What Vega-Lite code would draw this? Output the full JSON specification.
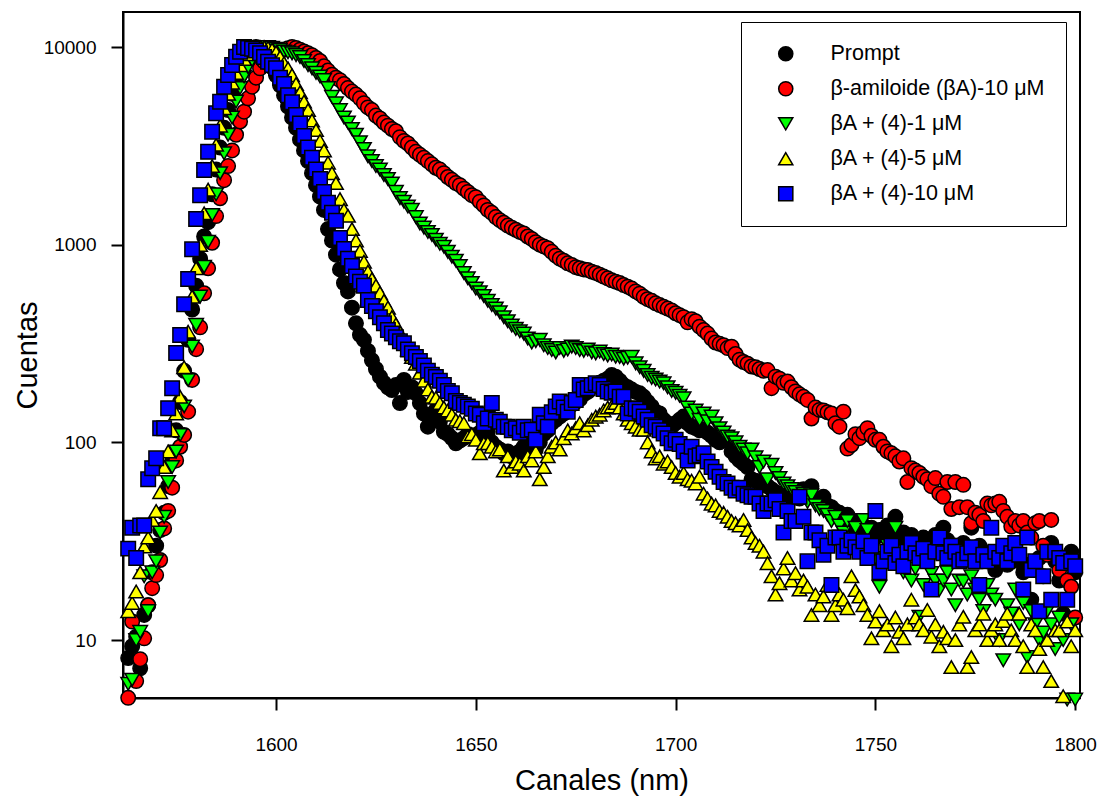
{
"$schema":"https://vega.github.io/schema/vega-lite/v6.json",
"autosize":{"type":"none"},
"width":957,"height":686,
"padding":{"left":123,"top":12,"right":27,"bottom":102},
"background":"white",
"config":{"view":{"stroke":"black","strokeWidth":2},"axis":{"grid":false},"font":"Liberation Sans"},
"data":{"values":[
{"x":1563,"s":"a","y":8.1},{"x":1564,"s":"a","y":9.3},{"x":1565,"s":"a","y":10.4},{"x":1566,"s":"a","y":7.2},{"x":1567,"s":"a","y":13.4},{"x":1568,"s":"a","y":15},{"x":1569,"s":"a","y":22},{"x":1570,"s":"a","y":30},{"x":1571,"s":"a","y":36},{"x":1572,"s":"a","y":44},{"x":1573,"s":"a","y":60},{"x":1574,"s":"a","y":80},{"x":1575,"s":"a","y":115},{"x":1576,"s":"a","y":160},{"x":1577,"s":"a","y":230},{"x":1578,"s":"a","y":330},{"x":1579,"s":"a","y":470},{"x":1580,"s":"a","y":620},{"x":1581,"s":"a","y":850},{"x":1582,"s":"a","y":1100},{"x":1583,"s":"a","y":1300},{"x":1584,"s":"a","y":1800},{"x":1585,"s":"a","y":2400},{"x":1586,"s":"a","y":3100},{"x":1587,"s":"a","y":3900},{"x":1588,"s":"a","y":4800},{"x":1589,"s":"a","y":5800},{"x":1590,"s":"a","y":6800},{"x":1591,"s":"a","y":7700},{"x":1592,"s":"a","y":8500},{"x":1593,"s":"a","y":9200},{"x":1594,"s":"a","y":9800},{"x":1595,"s":"a","y":10000},{"x":1596,"s":"a","y":9700},{"x":1597,"s":"a","y":9200},{"x":1598,"s":"a","y":8600},{"x":1599,"s":"a","y":7900},{"x":1600,"s":"a","y":7200},{"x":1601,"s":"a","y":6400},{"x":1602,"s":"a","y":5700},{"x":1603,"s":"a","y":5000},{"x":1604,"s":"a","y":4400},{"x":1605,"s":"a","y":3900},{"x":1606,"s":"a","y":3400},{"x":1607,"s":"a","y":3000},{"x":1608,"s":"a","y":2650},{"x":1609,"s":"a","y":2300},{"x":1610,"s":"a","y":2000},{"x":1611,"s":"a","y":1750},{"x":1612,"s":"a","y":1500},{"x":1613,"s":"a","y":1200},{"x":1614,"s":"a","y":1050},{"x":1615,"s":"a","y":890},{"x":1616,"s":"a","y":750},{"x":1617,"s":"a","y":640},{"x":1618,"s":"a","y":580},{"x":1619,"s":"a","y":480},{"x":1620,"s":"a","y":400},{"x":1621,"s":"a","y":350},{"x":1622,"s":"a","y":330},{"x":1623,"s":"a","y":290},{"x":1624,"s":"a","y":260},{"x":1625,"s":"a","y":235},{"x":1626,"s":"a","y":215},{"x":1627,"s":"a","y":200},{"x":1628,"s":"a","y":190},{"x":1629,"s":"a","y":184},{"x":1630,"s":"a","y":195},{"x":1631,"s":"a","y":158},{"x":1632,"s":"a","y":207},{"x":1633,"s":"a","y":180},{"x":1634,"s":"a","y":190},{"x":1635,"s":"a","y":177},{"x":1636,"s":"a","y":158},{"x":1637,"s":"a","y":140},{"x":1638,"s":"a","y":120},{"x":1639,"s":"a","y":130},{"x":1640,"s":"a","y":146},{"x":1641,"s":"a","y":127},{"x":1642,"s":"a","y":113},{"x":1643,"s":"a","y":110},{"x":1644,"s":"a","y":105},{"x":1645,"s":"a","y":99},{"x":1646,"s":"a","y":102},{"x":1647,"s":"a","y":105},{"x":1648,"s":"a","y":110},{"x":1649,"s":"a","y":108},{"x":1650,"s":"a","y":109},{"x":1651,"s":"a","y":112},{"x":1652,"s":"a","y":110},{"x":1653,"s":"a","y":113},{"x":1654,"s":"a","y":100},{"x":1655,"s":"a","y":95},{"x":1656,"s":"a","y":92},{"x":1657,"s":"a","y":88},{"x":1658,"s":"a","y":90},{"x":1659,"s":"a","y":85},{"x":1660,"s":"a","y":82},{"x":1661,"s":"a","y":90},{"x":1662,"s":"a","y":95},{"x":1663,"s":"a","y":100},{"x":1664,"s":"a","y":95},{"x":1665,"s":"a","y":92},{"x":1666,"s":"a","y":100},{"x":1667,"s":"a","y":110},{"x":1668,"s":"a","y":115},{"x":1669,"s":"a","y":125},{"x":1670,"s":"a","y":130},{"x":1671,"s":"a","y":135},{"x":1672,"s":"a","y":140},{"x":1673,"s":"a","y":150},{"x":1674,"s":"a","y":155},{"x":1675,"s":"a","y":160},{"x":1676,"s":"a","y":165},{"x":1677,"s":"a","y":175},{"x":1678,"s":"a","y":180},{"x":1679,"s":"a","y":190},{"x":1680,"s":"a","y":195},{"x":1681,"s":"a","y":200},{"x":1682,"s":"a","y":205},{"x":1683,"s":"a","y":210},{"x":1684,"s":"a","y":219},{"x":1685,"s":"a","y":215},{"x":1686,"s":"a","y":205},{"x":1687,"s":"a","y":195},{"x":1688,"s":"a","y":190},{"x":1689,"s":"a","y":185},{"x":1690,"s":"a","y":180},{"x":1691,"s":"a","y":177},{"x":1692,"s":"a","y":170},{"x":1693,"s":"a","y":160},{"x":1694,"s":"a","y":152},{"x":1695,"s":"a","y":143},{"x":1696,"s":"a","y":140},{"x":1697,"s":"a","y":130},{"x":1698,"s":"a","y":125},{"x":1699,"s":"a","y":120},{"x":1700,"s":"a","y":125},{"x":1701,"s":"a","y":130},{"x":1702,"s":"a","y":135},{"x":1703,"s":"a","y":125},{"x":1704,"s":"a","y":120},{"x":1705,"s":"a","y":118},{"x":1706,"s":"a","y":115},{"x":1707,"s":"a","y":116},{"x":1708,"s":"a","y":112},{"x":1709,"s":"a","y":108},{"x":1710,"s":"a","y":103},{"x":1711,"s":"a","y":100},{"x":1712,"s":"a","y":104},{"x":1713,"s":"a","y":103},{"x":1714,"s":"a","y":90},{"x":1715,"s":"a","y":85},{"x":1716,"s":"a","y":81},{"x":1717,"s":"a","y":78},{"x":1718,"s":"a","y":75},{"x":1719,"s":"a","y":65},{"x":1720,"s":"a","y":64},{"x":1721,"s":"a","y":63},{"x":1722,"s":"a","y":62},{"x":1723,"s":"a","y":60},{"x":1724,"s":"a","y":58},{"x":1725,"s":"a","y":56},{"x":1726,"s":"a","y":55},{"x":1727,"s":"a","y":54},{"x":1728,"s":"a","y":53},{"x":1729,"s":"a","y":52},{"x":1730,"s":"a","y":55},{"x":1731,"s":"a","y":52},{"x":1732,"s":"a","y":58},{"x":1733,"s":"a","y":57},{"x":1734,"s":"a","y":60},{"x":1735,"s":"a","y":52},{"x":1736,"s":"a","y":50},{"x":1737,"s":"a","y":53},{"x":1738,"s":"a","y":48},{"x":1739,"s":"a","y":47},{"x":1740,"s":"a","y":45},{"x":1741,"s":"a","y":44},{"x":1742,"s":"a","y":40},{"x":1743,"s":"a","y":43},{"x":1744,"s":"a","y":38},{"x":1745,"s":"a","y":40},{"x":1746,"s":"a","y":36},{"x":1747,"s":"a","y":38},{"x":1748,"s":"a","y":35},{"x":1749,"s":"a","y":37},{"x":1750,"s":"a","y":33},{"x":1751,"s":"a","y":36},{"x":1752,"s":"a","y":34},{"x":1753,"s":"a","y":38},{"x":1754,"s":"a","y":35},{"x":1755,"s":"a","y":42},{"x":1756,"s":"a","y":33},{"x":1757,"s":"a","y":35},{"x":1758,"s":"a","y":30},{"x":1759,"s":"a","y":34},{"x":1760,"s":"a","y":32},{"x":1761,"s":"a","y":30},{"x":1762,"s":"a","y":33},{"x":1763,"s":"a","y":29},{"x":1764,"s":"a","y":31},{"x":1765,"s":"a","y":34},{"x":1766,"s":"a","y":30},{"x":1767,"s":"a","y":37},{"x":1768,"s":"a","y":32},{"x":1769,"s":"a","y":28},{"x":1770,"s":"a","y":30},{"x":1771,"s":"a","y":27},{"x":1772,"s":"a","y":31},{"x":1773,"s":"a","y":29},{"x":1774,"s":"a","y":37},{"x":1775,"s":"a","y":26},{"x":1776,"s":"a","y":30},{"x":1777,"s":"a","y":28},{"x":1778,"s":"a","y":25},{"x":1779,"s":"a","y":27},{"x":1780,"s":"a","y":22.6},{"x":1781,"s":"a","y":28},{"x":1782,"s":"a","y":26},{"x":1783,"s":"a","y":24},{"x":1784,"s":"a","y":27},{"x":1785,"s":"a","y":29},{"x":1786,"s":"a","y":25},{"x":1787,"s":"a","y":22},{"x":1788,"s":"a","y":24},{"x":1789,"s":"a","y":16},{"x":1790,"s":"a","y":23},{"x":1791,"s":"a","y":26},{"x":1792,"s":"a","y":21},{"x":1793,"s":"a","y":28},{"x":1794,"s":"a","y":31},{"x":1795,"s":"a","y":25},{"x":1796,"s":"a","y":20},{"x":1797,"s":"a","y":13.6},{"x":1798,"s":"a","y":20},{"x":1799,"s":"a","y":28},{"x":1800,"s":"a","y":22},
{"x":1563,"s":"b","y":5.1},{"x":1564,"s":"b","y":12.4},{"x":1565,"s":"b","y":6.2},{"x":1566,"s":"b","y":8},{"x":1567,"s":"b","y":10.2},{"x":1568,"s":"b","y":15},{"x":1569,"s":"b","y":18.3},{"x":1570,"s":"b","y":21.3},{"x":1571,"s":"b","y":25.4},{"x":1572,"s":"b","y":36.7},{"x":1573,"s":"b","y":45},{"x":1574,"s":"b","y":59},{"x":1575,"s":"b","y":81},{"x":1576,"s":"b","y":95},{"x":1577,"s":"b","y":109},{"x":1578,"s":"b","y":143},{"x":1579,"s":"b","y":207},{"x":1580,"s":"b","y":296},{"x":1581,"s":"b","y":382},{"x":1582,"s":"b","y":568},{"x":1583,"s":"b","y":760},{"x":1584,"s":"b","y":1023},{"x":1585,"s":"b","y":1395},{"x":1586,"s":"b","y":1718},{"x":1587,"s":"b","y":2120},{"x":1588,"s":"b","y":2500},{"x":1589,"s":"b","y":3000},{"x":1590,"s":"b","y":3600},{"x":1591,"s":"b","y":4200},{"x":1592,"s":"b","y":4710},{"x":1593,"s":"b","y":5500},{"x":1594,"s":"b","y":6300},{"x":1595,"s":"b","y":7000},{"x":1596,"s":"b","y":7800},{"x":1597,"s":"b","y":8430},{"x":1598,"s":"b","y":8800},{"x":1599,"s":"b","y":9100},{"x":1600,"s":"b","y":9300},{"x":1601,"s":"b","y":9500},{"x":1602,"s":"b","y":9700},{"x":1603,"s":"b","y":9850},{"x":1604,"s":"b","y":10000},{"x":1605,"s":"b","y":9900},{"x":1606,"s":"b","y":9700},{"x":1607,"s":"b","y":9500},{"x":1608,"s":"b","y":9300},{"x":1609,"s":"b","y":9100},{"x":1610,"s":"b","y":8800},{"x":1611,"s":"b","y":8500},{"x":1612,"s":"b","y":8000},{"x":1613,"s":"b","y":7600},{"x":1614,"s":"b","y":7250},{"x":1615,"s":"b","y":7000},{"x":1616,"s":"b","y":6800},{"x":1617,"s":"b","y":6500},{"x":1618,"s":"b","y":6200},{"x":1619,"s":"b","y":5950},{"x":1620,"s":"b","y":5750},{"x":1621,"s":"b","y":5500},{"x":1622,"s":"b","y":5200},{"x":1623,"s":"b","y":4950},{"x":1624,"s":"b","y":4800},{"x":1625,"s":"b","y":4500},{"x":1626,"s":"b","y":4350},{"x":1627,"s":"b","y":4150},{"x":1628,"s":"b","y":4000},{"x":1629,"s":"b","y":3850},{"x":1630,"s":"b","y":3750},{"x":1631,"s":"b","y":3500},{"x":1632,"s":"b","y":3350},{"x":1633,"s":"b","y":3250},{"x":1634,"s":"b","y":3100},{"x":1635,"s":"b","y":2950},{"x":1636,"s":"b","y":2850},{"x":1637,"s":"b","y":2750},{"x":1638,"s":"b","y":2650},{"x":1639,"s":"b","y":2550},{"x":1640,"s":"b","y":2450},{"x":1641,"s":"b","y":2400},{"x":1642,"s":"b","y":2300},{"x":1643,"s":"b","y":2200},{"x":1644,"s":"b","y":2130},{"x":1645,"s":"b","y":2050},{"x":1646,"s":"b","y":2000},{"x":1647,"s":"b","y":1920},{"x":1648,"s":"b","y":1850},{"x":1649,"s":"b","y":1780},{"x":1650,"s":"b","y":1740},{"x":1651,"s":"b","y":1650},{"x":1652,"s":"b","y":1580},{"x":1653,"s":"b","y":1500},{"x":1654,"s":"b","y":1450},{"x":1655,"s":"b","y":1380},{"x":1656,"s":"b","y":1330},{"x":1657,"s":"b","y":1290},{"x":1658,"s":"b","y":1250},{"x":1659,"s":"b","y":1220},{"x":1660,"s":"b","y":1190},{"x":1661,"s":"b","y":1160},{"x":1662,"s":"b","y":1140},{"x":1663,"s":"b","y":1100},{"x":1664,"s":"b","y":1070},{"x":1665,"s":"b","y":1030},{"x":1666,"s":"b","y":1000},{"x":1667,"s":"b","y":980},{"x":1668,"s":"b","y":960},{"x":1669,"s":"b","y":920},{"x":1670,"s":"b","y":880},{"x":1671,"s":"b","y":850},{"x":1672,"s":"b","y":830},{"x":1673,"s":"b","y":805},{"x":1674,"s":"b","y":790},{"x":1675,"s":"b","y":770},{"x":1676,"s":"b","y":760},{"x":1677,"s":"b","y":750},{"x":1678,"s":"b","y":745},{"x":1679,"s":"b","y":730},{"x":1680,"s":"b","y":720},{"x":1681,"s":"b","y":705},{"x":1682,"s":"b","y":690},{"x":1683,"s":"b","y":676},{"x":1684,"s":"b","y":660},{"x":1685,"s":"b","y":650},{"x":1686,"s":"b","y":640},{"x":1687,"s":"b","y":625},{"x":1688,"s":"b","y":613},{"x":1689,"s":"b","y":600},{"x":1690,"s":"b","y":580},{"x":1691,"s":"b","y":565},{"x":1692,"s":"b","y":545},{"x":1693,"s":"b","y":530},{"x":1694,"s":"b","y":520},{"x":1695,"s":"b","y":505},{"x":1696,"s":"b","y":495},{"x":1697,"s":"b","y":485},{"x":1698,"s":"b","y":475},{"x":1699,"s":"b","y":465},{"x":1700,"s":"b","y":450},{"x":1701,"s":"b","y":440},{"x":1702,"s":"b","y":430},{"x":1703,"s":"b","y":405},{"x":1704,"s":"b","y":420},{"x":1705,"s":"b","y":410},{"x":1706,"s":"b","y":385},{"x":1707,"s":"b","y":370},{"x":1708,"s":"b","y":355},{"x":1709,"s":"b","y":335},{"x":1710,"s":"b","y":320},{"x":1711,"s":"b","y":315},{"x":1712,"s":"b","y":310},{"x":1713,"s":"b","y":300},{"x":1714,"s":"b","y":305},{"x":1715,"s":"b","y":280},{"x":1716,"s":"b","y":262},{"x":1717,"s":"b","y":255},{"x":1718,"s":"b","y":250},{"x":1719,"s":"b","y":242},{"x":1720,"s":"b","y":240},{"x":1721,"s":"b","y":235},{"x":1722,"s":"b","y":230},{"x":1723,"s":"b","y":232},{"x":1724,"s":"b","y":188},{"x":1725,"s":"b","y":215},{"x":1726,"s":"b","y":210},{"x":1727,"s":"b","y":200},{"x":1728,"s":"b","y":203},{"x":1729,"s":"b","y":190},{"x":1730,"s":"b","y":181},{"x":1731,"s":"b","y":175},{"x":1732,"s":"b","y":170},{"x":1733,"s":"b","y":164},{"x":1734,"s":"b","y":132},{"x":1735,"s":"b","y":150},{"x":1736,"s":"b","y":146},{"x":1737,"s":"b","y":145},{"x":1738,"s":"b","y":142},{"x":1739,"s":"b","y":140},{"x":1740,"s":"b","y":125},{"x":1741,"s":"b","y":120},{"x":1742,"s":"b","y":143},{"x":1743,"s":"b","y":93},{"x":1744,"s":"b","y":97},{"x":1745,"s":"b","y":110},{"x":1746,"s":"b","y":105},{"x":1747,"s":"b","y":112},{"x":1748,"s":"b","y":118},{"x":1749,"s":"b","y":108},{"x":1750,"s":"b","y":103},{"x":1751,"s":"b","y":103},{"x":1752,"s":"b","y":95},{"x":1753,"s":"b","y":90},{"x":1754,"s":"b","y":88},{"x":1755,"s":"b","y":85},{"x":1756,"s":"b","y":80},{"x":1757,"s":"b","y":83},{"x":1758,"s":"b","y":63},{"x":1759,"s":"b","y":74},{"x":1760,"s":"b","y":72},{"x":1761,"s":"b","y":70},{"x":1762,"s":"b","y":67},{"x":1763,"s":"b","y":65},{"x":1764,"s":"b","y":60},{"x":1765,"s":"b","y":66},{"x":1766,"s":"b","y":55},{"x":1767,"s":"b","y":53},{"x":1768,"s":"b","y":63},{"x":1769,"s":"b","y":46},{"x":1770,"s":"b","y":63},{"x":1771,"s":"b","y":47},{"x":1772,"s":"b","y":61},{"x":1773,"s":"b","y":47},{"x":1774,"s":"b","y":39},{"x":1775,"s":"b","y":44},{"x":1776,"s":"b","y":43},{"x":1777,"s":"b","y":40},{"x":1778,"s":"b","y":49},{"x":1779,"s":"b","y":48},{"x":1780,"s":"b","y":49},{"x":1781,"s":"b","y":50},{"x":1782,"s":"b","y":45},{"x":1783,"s":"b","y":42},{"x":1784,"s":"b","y":37.5},{"x":1785,"s":"b","y":40},{"x":1786,"s":"b","y":38},{"x":1787,"s":"b","y":40},{"x":1788,"s":"b","y":35},{"x":1789,"s":"b","y":33},{"x":1790,"s":"b","y":39},{"x":1791,"s":"b","y":40},{"x":1792,"s":"b","y":30},{"x":1793,"s":"b","y":27},{"x":1794,"s":"b","y":40.5},{"x":1795,"s":"b","y":28},{"x":1796,"s":"b","y":22.6},{"x":1797,"s":"b","y":25},{"x":1798,"s":"b","y":20},{"x":1799,"s":"b","y":18.6},{"x":1800,"s":"b","y":13},
{"x":1563,"s":"c","y":6},{"x":1564,"s":"c","y":6.3},{"x":1565,"s":"c","y":10},{"x":1566,"s":"c","y":11},{"x":1567,"s":"c","y":21},{"x":1568,"s":"c","y":14},{"x":1569,"s":"c","y":22},{"x":1570,"s":"c","y":25},{"x":1571,"s":"c","y":35},{"x":1572,"s":"c","y":42},{"x":1573,"s":"c","y":63},{"x":1574,"s":"c","y":75},{"x":1575,"s":"c","y":90},{"x":1576,"s":"c","y":109},{"x":1577,"s":"c","y":152},{"x":1578,"s":"c","y":207},{"x":1579,"s":"c","y":305},{"x":1580,"s":"c","y":393},{"x":1581,"s":"c","y":546},{"x":1582,"s":"c","y":774},{"x":1583,"s":"c","y":1035},{"x":1584,"s":"c","y":1413},{"x":1585,"s":"c","y":1800},{"x":1586,"s":"c","y":2300},{"x":1587,"s":"c","y":2900},{"x":1588,"s":"c","y":3600},{"x":1589,"s":"c","y":4400},{"x":1590,"s":"c","y":5300},{"x":1591,"s":"c","y":6200},{"x":1592,"s":"c","y":7100},{"x":1593,"s":"c","y":7900},{"x":1594,"s":"c","y":8600},{"x":1595,"s":"c","y":9200},{"x":1596,"s":"c","y":9700},{"x":1597,"s":"c","y":10000},{"x":1598,"s":"c","y":10000},{"x":1599,"s":"c","y":9900},{"x":1600,"s":"c","y":9800},{"x":1601,"s":"c","y":9700},{"x":1602,"s":"c","y":9500},{"x":1603,"s":"c","y":9400},{"x":1604,"s":"c","y":9290},{"x":1605,"s":"c","y":9100},{"x":1606,"s":"c","y":8900},{"x":1607,"s":"c","y":8500},{"x":1608,"s":"c","y":8100},{"x":1609,"s":"c","y":7800},{"x":1610,"s":"c","y":7400},{"x":1611,"s":"c","y":7100},{"x":1612,"s":"c","y":6800},{"x":1613,"s":"c","y":6200},{"x":1614,"s":"c","y":5600},{"x":1615,"s":"c","y":5190},{"x":1616,"s":"c","y":4800},{"x":1617,"s":"c","y":4400},{"x":1618,"s":"c","y":4150},{"x":1619,"s":"c","y":3850},{"x":1620,"s":"c","y":3600},{"x":1621,"s":"c","y":3300},{"x":1622,"s":"c","y":3050},{"x":1623,"s":"c","y":2800},{"x":1624,"s":"c","y":2650},{"x":1625,"s":"c","y":2500},{"x":1626,"s":"c","y":2400},{"x":1627,"s":"c","y":2250},{"x":1628,"s":"c","y":2150},{"x":1629,"s":"c","y":2040},{"x":1630,"s":"c","y":1850},{"x":1631,"s":"c","y":1720},{"x":1632,"s":"c","y":1650},{"x":1633,"s":"c","y":1560},{"x":1634,"s":"c","y":1500},{"x":1635,"s":"c","y":1380},{"x":1636,"s":"c","y":1280},{"x":1637,"s":"c","y":1220},{"x":1638,"s":"c","y":1160},{"x":1639,"s":"c","y":1120},{"x":1640,"s":"c","y":1060},{"x":1641,"s":"c","y":1010},{"x":1642,"s":"c","y":977},{"x":1643,"s":"c","y":920},{"x":1644,"s":"c","y":870},{"x":1645,"s":"c","y":830},{"x":1646,"s":"c","y":780},{"x":1647,"s":"c","y":720},{"x":1648,"s":"c","y":676},{"x":1649,"s":"c","y":640},{"x":1650,"s":"c","y":600},{"x":1651,"s":"c","y":575},{"x":1652,"s":"c","y":550},{"x":1653,"s":"c","y":520},{"x":1654,"s":"c","y":495},{"x":1655,"s":"c","y":475},{"x":1656,"s":"c","y":455},{"x":1657,"s":"c","y":430},{"x":1658,"s":"c","y":410},{"x":1659,"s":"c","y":390},{"x":1660,"s":"c","y":375},{"x":1661,"s":"c","y":365},{"x":1662,"s":"c","y":355},{"x":1663,"s":"c","y":335},{"x":1664,"s":"c","y":320},{"x":1665,"s":"c","y":325},{"x":1666,"s":"c","y":330},{"x":1667,"s":"c","y":310},{"x":1668,"s":"c","y":300},{"x":1669,"s":"c","y":293},{"x":1670,"s":"c","y":285},{"x":1671,"s":"c","y":300},{"x":1672,"s":"c","y":290},{"x":1673,"s":"c","y":295},{"x":1674,"s":"c","y":305},{"x":1675,"s":"c","y":300},{"x":1676,"s":"c","y":293},{"x":1677,"s":"c","y":290},{"x":1678,"s":"c","y":295},{"x":1679,"s":"c","y":285},{"x":1680,"s":"c","y":282},{"x":1681,"s":"c","y":288},{"x":1682,"s":"c","y":280},{"x":1683,"s":"c","y":275},{"x":1684,"s":"c","y":278},{"x":1685,"s":"c","y":271},{"x":1686,"s":"c","y":270},{"x":1687,"s":"c","y":265},{"x":1688,"s":"c","y":268},{"x":1689,"s":"c","y":271},{"x":1690,"s":"c","y":251},{"x":1691,"s":"c","y":240},{"x":1692,"s":"c","y":230},{"x":1693,"s":"c","y":219},{"x":1694,"s":"c","y":212},{"x":1695,"s":"c","y":208},{"x":1696,"s":"c","y":203},{"x":1697,"s":"c","y":199},{"x":1698,"s":"c","y":190},{"x":1699,"s":"c","y":182},{"x":1700,"s":"c","y":178},{"x":1701,"s":"c","y":172},{"x":1702,"s":"c","y":167},{"x":1703,"s":"c","y":150},{"x":1704,"s":"c","y":140},{"x":1705,"s":"c","y":145},{"x":1706,"s":"c","y":130},{"x":1707,"s":"c","y":140},{"x":1708,"s":"c","y":128},{"x":1709,"s":"c","y":135},{"x":1710,"s":"c","y":125},{"x":1711,"s":"c","y":118},{"x":1712,"s":"c","y":112},{"x":1713,"s":"c","y":107},{"x":1714,"s":"c","y":105},{"x":1715,"s":"c","y":100},{"x":1716,"s":"c","y":95},{"x":1717,"s":"c","y":92},{"x":1718,"s":"c","y":88},{"x":1719,"s":"c","y":92},{"x":1720,"s":"c","y":84},{"x":1721,"s":"c","y":75},{"x":1722,"s":"c","y":80},{"x":1723,"s":"c","y":65},{"x":1724,"s":"c","y":77},{"x":1725,"s":"c","y":70},{"x":1726,"s":"c","y":66},{"x":1727,"s":"c","y":62},{"x":1728,"s":"c","y":60},{"x":1729,"s":"c","y":58},{"x":1730,"s":"c","y":56},{"x":1731,"s":"c","y":52},{"x":1732,"s":"c","y":55},{"x":1733,"s":"c","y":50},{"x":1734,"s":"c","y":54},{"x":1735,"s":"c","y":48},{"x":1736,"s":"c","y":46},{"x":1737,"s":"c","y":45},{"x":1738,"s":"c","y":43},{"x":1739,"s":"c","y":40},{"x":1740,"s":"c","y":42},{"x":1741,"s":"c","y":38},{"x":1742,"s":"c","y":35},{"x":1743,"s":"c","y":40},{"x":1744,"s":"c","y":32},{"x":1745,"s":"c","y":37},{"x":1746,"s":"c","y":30},{"x":1747,"s":"c","y":40.5},{"x":1748,"s":"c","y":36},{"x":1749,"s":"c","y":28},{"x":1750,"s":"c","y":26},{"x":1751,"s":"c","y":18.6},{"x":1752,"s":"c","y":25},{"x":1753,"s":"c","y":30},{"x":1754,"s":"c","y":28},{"x":1755,"s":"c","y":37},{"x":1756,"s":"c","y":24},{"x":1757,"s":"c","y":22},{"x":1758,"s":"c","y":26},{"x":1759,"s":"c","y":20},{"x":1760,"s":"c","y":23},{"x":1761,"s":"c","y":13.1},{"x":1762,"s":"c","y":19},{"x":1763,"s":"c","y":24},{"x":1764,"s":"c","y":21.8},{"x":1765,"s":"c","y":20},{"x":1766,"s":"c","y":17.9},{"x":1767,"s":"c","y":20},{"x":1768,"s":"c","y":22},{"x":1769,"s":"c","y":18},{"x":1770,"s":"c","y":15},{"x":1771,"s":"c","y":20},{"x":1772,"s":"c","y":19.8},{"x":1773,"s":"c","y":17},{"x":1774,"s":"c","y":21},{"x":1775,"s":"c","y":18},{"x":1776,"s":"c","y":16},{"x":1777,"s":"c","y":14},{"x":1778,"s":"c","y":19},{"x":1779,"s":"c","y":17},{"x":1780,"s":"c","y":16},{"x":1781,"s":"c","y":10},{"x":1782,"s":"c","y":7.9},{"x":1783,"s":"c","y":15},{"x":1784,"s":"c","y":13.6},{"x":1785,"s":"c","y":18},{"x":1786,"s":"c","y":12},{"x":1787,"s":"c","y":15.4},{"x":1788,"s":"c","y":8.2},{"x":1789,"s":"c","y":14},{"x":1790,"s":"c","y":12},{"x":1791,"s":"c","y":10},{"x":1792,"s":"c","y":10.9},{"x":1793,"s":"c","y":14},{"x":1794,"s":"c","y":12},{"x":1795,"s":"c","y":9},{"x":1796,"s":"c","y":13},{"x":1797,"s":"c","y":10},{"x":1798,"s":"c","y":5},{"x":1799,"s":"c","y":12},{"x":1800,"s":"c","y":5},
{"x":1563,"s":"d","y":14},{"x":1564,"s":"d","y":15.4},{"x":1565,"s":"d","y":17.6},{"x":1566,"s":"d","y":22},{"x":1567,"s":"d","y":29.7},{"x":1568,"s":"d","y":33},{"x":1569,"s":"d","y":40.5},{"x":1570,"s":"d","y":45},{"x":1571,"s":"d","y":56},{"x":1572,"s":"d","y":75},{"x":1573,"s":"d","y":90},{"x":1574,"s":"d","y":115},{"x":1575,"s":"d","y":140},{"x":1576,"s":"d","y":170},{"x":1577,"s":"d","y":240},{"x":1578,"s":"d","y":363},{"x":1579,"s":"d","y":546},{"x":1580,"s":"d","y":760},{"x":1581,"s":"d","y":996},{"x":1582,"s":"d","y":1442},{"x":1583,"s":"d","y":1900},{"x":1584,"s":"d","y":2500},{"x":1585,"s":"d","y":3200},{"x":1586,"s":"d","y":4000},{"x":1587,"s":"d","y":4900},{"x":1588,"s":"d","y":5800},{"x":1589,"s":"d","y":6600},{"x":1590,"s":"d","y":7400},{"x":1591,"s":"d","y":8100},{"x":1592,"s":"d","y":8700},{"x":1593,"s":"d","y":9200},{"x":1594,"s":"d","y":9600},{"x":1595,"s":"d","y":9900},{"x":1596,"s":"d","y":10000},{"x":1597,"s":"d","y":10000},{"x":1598,"s":"d","y":9900},{"x":1599,"s":"d","y":9700},{"x":1600,"s":"d","y":9400},{"x":1601,"s":"d","y":8900},{"x":1602,"s":"d","y":8300},{"x":1603,"s":"d","y":7800},{"x":1604,"s":"d","y":7200},{"x":1605,"s":"d","y":6500},{"x":1606,"s":"d","y":5900},{"x":1607,"s":"d","y":5300},{"x":1608,"s":"d","y":4800},{"x":1609,"s":"d","y":4250},{"x":1610,"s":"d","y":3800},{"x":1611,"s":"d","y":3350},{"x":1612,"s":"d","y":3000},{"x":1613,"s":"d","y":2600},{"x":1614,"s":"d","y":2300},{"x":1615,"s":"d","y":2050},{"x":1616,"s":"d","y":1700},{"x":1617,"s":"d","y":1500},{"x":1618,"s":"d","y":1400},{"x":1619,"s":"d","y":1200},{"x":1620,"s":"d","y":1050},{"x":1621,"s":"d","y":930},{"x":1622,"s":"d","y":820},{"x":1623,"s":"d","y":730},{"x":1624,"s":"d","y":670},{"x":1625,"s":"d","y":620},{"x":1626,"s":"d","y":570},{"x":1627,"s":"d","y":520},{"x":1628,"s":"d","y":480},{"x":1629,"s":"d","y":430},{"x":1630,"s":"d","y":395},{"x":1631,"s":"d","y":360},{"x":1632,"s":"d","y":325},{"x":1633,"s":"d","y":295},{"x":1634,"s":"d","y":270},{"x":1635,"s":"d","y":250},{"x":1636,"s":"d","y":225},{"x":1637,"s":"d","y":205},{"x":1638,"s":"d","y":185},{"x":1639,"s":"d","y":170},{"x":1640,"s":"d","y":168},{"x":1641,"s":"d","y":158},{"x":1642,"s":"d","y":150},{"x":1643,"s":"d","y":145},{"x":1644,"s":"d","y":138},{"x":1645,"s":"d","y":130},{"x":1646,"s":"d","y":128},{"x":1647,"s":"d","y":125},{"x":1648,"s":"d","y":107},{"x":1649,"s":"d","y":110},{"x":1650,"s":"d","y":103},{"x":1651,"s":"d","y":88},{"x":1652,"s":"d","y":99},{"x":1653,"s":"d","y":99},{"x":1654,"s":"d","y":95},{"x":1655,"s":"d","y":90},{"x":1656,"s":"d","y":92},{"x":1657,"s":"d","y":72},{"x":1658,"s":"d","y":85},{"x":1659,"s":"d","y":75},{"x":1660,"s":"d","y":80},{"x":1661,"s":"d","y":78},{"x":1662,"s":"d","y":72},{"x":1663,"s":"d","y":85},{"x":1664,"s":"d","y":81},{"x":1665,"s":"d","y":90},{"x":1666,"s":"d","y":65},{"x":1667,"s":"d","y":75},{"x":1668,"s":"d","y":85},{"x":1669,"s":"d","y":95},{"x":1670,"s":"d","y":100},{"x":1671,"s":"d","y":92},{"x":1672,"s":"d","y":105},{"x":1673,"s":"d","y":115},{"x":1674,"s":"d","y":111},{"x":1675,"s":"d","y":118},{"x":1676,"s":"d","y":125},{"x":1677,"s":"d","y":115},{"x":1678,"s":"d","y":122},{"x":1679,"s":"d","y":130},{"x":1680,"s":"d","y":135},{"x":1681,"s":"d","y":138},{"x":1682,"s":"d","y":145},{"x":1683,"s":"d","y":150},{"x":1684,"s":"d","y":152},{"x":1685,"s":"d","y":158},{"x":1686,"s":"d","y":150},{"x":1687,"s":"d","y":140},{"x":1688,"s":"d","y":130},{"x":1689,"s":"d","y":125},{"x":1690,"s":"d","y":120},{"x":1691,"s":"d","y":116},{"x":1692,"s":"d","y":116},{"x":1693,"s":"d","y":100},{"x":1694,"s":"d","y":90},{"x":1695,"s":"d","y":83},{"x":1696,"s":"d","y":85},{"x":1697,"s":"d","y":78},{"x":1698,"s":"d","y":80},{"x":1699,"s":"d","y":75},{"x":1700,"s":"d","y":70},{"x":1701,"s":"d","y":67},{"x":1702,"s":"d","y":70},{"x":1703,"s":"d","y":65},{"x":1704,"s":"d","y":64},{"x":1705,"s":"d","y":62},{"x":1706,"s":"d","y":67},{"x":1707,"s":"d","y":55},{"x":1708,"s":"d","y":52},{"x":1709,"s":"d","y":49},{"x":1710,"s":"d","y":48},{"x":1711,"s":"d","y":45},{"x":1712,"s":"d","y":44},{"x":1713,"s":"d","y":42},{"x":1714,"s":"d","y":40},{"x":1715,"s":"d","y":39},{"x":1716,"s":"d","y":38},{"x":1717,"s":"d","y":40.5},{"x":1718,"s":"d","y":36},{"x":1719,"s":"d","y":33},{"x":1720,"s":"d","y":31},{"x":1721,"s":"d","y":30},{"x":1722,"s":"d","y":28},{"x":1723,"s":"d","y":24.5},{"x":1724,"s":"d","y":21},{"x":1725,"s":"d","y":17},{"x":1726,"s":"d","y":19.4},{"x":1727,"s":"d","y":23},{"x":1728,"s":"d","y":26},{"x":1729,"s":"d","y":20},{"x":1730,"s":"d","y":21.8},{"x":1731,"s":"d","y":18},{"x":1732,"s":"d","y":20},{"x":1733,"s":"d","y":18.6},{"x":1734,"s":"d","y":13.4},{"x":1735,"s":"d","y":17},{"x":1736,"s":"d","y":15},{"x":1737,"s":"d","y":16.6},{"x":1738,"s":"d","y":19},{"x":1739,"s":"d","y":13.4},{"x":1740,"s":"d","y":15},{"x":1741,"s":"d","y":17},{"x":1742,"s":"d","y":16},{"x":1743,"s":"d","y":14.5},{"x":1744,"s":"d","y":21},{"x":1745,"s":"d","y":17.9},{"x":1746,"s":"d","y":16.6},{"x":1747,"s":"d","y":15},{"x":1748,"s":"d","y":13.4},{"x":1749,"s":"d","y":10.2},{"x":1750,"s":"d","y":12.4},{"x":1751,"s":"d","y":14},{"x":1752,"s":"d","y":11.2},{"x":1753,"s":"d","y":12},{"x":1754,"s":"d","y":9.3},{"x":1755,"s":"d","y":13},{"x":1756,"s":"d","y":11},{"x":1757,"s":"d","y":10.2},{"x":1758,"s":"d","y":12},{"x":1759,"s":"d","y":16},{"x":1760,"s":"d","y":13},{"x":1761,"s":"d","y":12},{"x":1762,"s":"d","y":11.2},{"x":1763,"s":"d","y":14.2},{"x":1764,"s":"d","y":10.4},{"x":1765,"s":"d","y":12},{"x":1766,"s":"d","y":9.3},{"x":1767,"s":"d","y":11},{"x":1768,"s":"d","y":10.2},{"x":1769,"s":"d","y":7.3},{"x":1770,"s":"d","y":10},{"x":1771,"s":"d","y":12},{"x":1772,"s":"d","y":13.1},{"x":1773,"s":"d","y":7.3},{"x":1774,"s":"d","y":8.2},{"x":1775,"s":"d","y":11.2},{"x":1776,"s":"d","y":12},{"x":1777,"s":"d","y":13.6},{"x":1778,"s":"d","y":10},{"x":1779,"s":"d","y":11.2},{"x":1780,"s":"d","y":12},{"x":1781,"s":"d","y":10},{"x":1782,"s":"d","y":12.5},{"x":1783,"s":"d","y":13.6},{"x":1784,"s":"d","y":11.2},{"x":1785,"s":"d","y":10},{"x":1786,"s":"d","y":13.6},{"x":1787,"s":"d","y":9.3},{"x":1788,"s":"d","y":7.3},{"x":1789,"s":"d","y":12},{"x":1790,"s":"d","y":11.2},{"x":1791,"s":"d","y":9},{"x":1792,"s":"d","y":7.3},{"x":1793,"s":"d","y":10},{"x":1794,"s":"d","y":6.2},{"x":1795,"s":"d","y":11.2},{"x":1796,"s":"d","y":11.2},{"x":1797,"s":"d","y":5.2},{"x":1798,"s":"d","y":12.4},{"x":1799,"s":"d","y":9.3},{"x":1800,"s":"d","y":11.2},
{"x":1563,"s":"e","y":29},{"x":1564,"s":"e","y":37},{"x":1565,"s":"e","y":26},{"x":1566,"s":"e","y":38},{"x":1567,"s":"e","y":38},{"x":1568,"s":"e","y":65},{"x":1569,"s":"e","y":74},{"x":1570,"s":"e","y":83},{"x":1571,"s":"e","y":118},{"x":1572,"s":"e","y":118},{"x":1573,"s":"e","y":149},{"x":1574,"s":"e","y":188},{"x":1575,"s":"e","y":283},{"x":1576,"s":"e","y":349},{"x":1577,"s":"e","y":500},{"x":1578,"s":"e","y":670},{"x":1579,"s":"e","y":948},{"x":1580,"s":"e","y":1350},{"x":1581,"s":"e","y":1780},{"x":1582,"s":"e","y":2390},{"x":1583,"s":"e","y":2950},{"x":1584,"s":"e","y":3730},{"x":1585,"s":"e","y":4620},{"x":1586,"s":"e","y":5290},{"x":1587,"s":"e","y":6300},{"x":1588,"s":"e","y":7220},{"x":1589,"s":"e","y":8110},{"x":1590,"s":"e","y":8930},{"x":1591,"s":"e","y":9470},{"x":1592,"s":"e","y":10000},{"x":1593,"s":"e","y":9900},{"x":1594,"s":"e","y":9800},{"x":1595,"s":"e","y":9600},{"x":1596,"s":"e","y":9300},{"x":1597,"s":"e","y":8900},{"x":1598,"s":"e","y":8430},{"x":1599,"s":"e","y":8100},{"x":1600,"s":"e","y":7800},{"x":1601,"s":"e","y":7000},{"x":1602,"s":"e","y":6500},{"x":1603,"s":"e","y":5700},{"x":1604,"s":"e","y":5250},{"x":1605,"s":"e","y":4530},{"x":1606,"s":"e","y":4100},{"x":1607,"s":"e","y":3550},{"x":1608,"s":"e","y":3100},{"x":1609,"s":"e","y":2750},{"x":1610,"s":"e","y":2400},{"x":1611,"s":"e","y":2150},{"x":1612,"s":"e","y":1850},{"x":1613,"s":"e","y":1630},{"x":1614,"s":"e","y":1450},{"x":1615,"s":"e","y":1320},{"x":1616,"s":"e","y":1080},{"x":1617,"s":"e","y":950},{"x":1618,"s":"e","y":850},{"x":1619,"s":"e","y":780},{"x":1620,"s":"e","y":690},{"x":1621,"s":"e","y":650},{"x":1622,"s":"e","y":620},{"x":1623,"s":"e","y":525},{"x":1624,"s":"e","y":490},{"x":1625,"s":"e","y":460},{"x":1626,"s":"e","y":430},{"x":1627,"s":"e","y":400},{"x":1628,"s":"e","y":370},{"x":1629,"s":"e","y":355},{"x":1630,"s":"e","y":340},{"x":1631,"s":"e","y":325},{"x":1632,"s":"e","y":317},{"x":1633,"s":"e","y":295},{"x":1634,"s":"e","y":282},{"x":1635,"s":"e","y":270},{"x":1636,"s":"e","y":258},{"x":1637,"s":"e","y":245},{"x":1638,"s":"e","y":230},{"x":1639,"s":"e","y":220},{"x":1640,"s":"e","y":214},{"x":1641,"s":"e","y":205},{"x":1642,"s":"e","y":195},{"x":1643,"s":"e","y":182},{"x":1644,"s":"e","y":177},{"x":1645,"s":"e","y":162},{"x":1646,"s":"e","y":158},{"x":1647,"s":"e","y":155},{"x":1648,"s":"e","y":152},{"x":1649,"s":"e","y":148},{"x":1650,"s":"e","y":140},{"x":1651,"s":"e","y":138},{"x":1652,"s":"e","y":125},{"x":1653,"s":"e","y":132},{"x":1654,"s":"e","y":158},{"x":1655,"s":"e","y":130},{"x":1656,"s":"e","y":127},{"x":1657,"s":"e","y":120},{"x":1658,"s":"e","y":120},{"x":1659,"s":"e","y":115},{"x":1660,"s":"e","y":118},{"x":1661,"s":"e","y":112},{"x":1662,"s":"e","y":120},{"x":1663,"s":"e","y":115},{"x":1664,"s":"e","y":116},{"x":1665,"s":"e","y":103},{"x":1666,"s":"e","y":138},{"x":1667,"s":"e","y":125},{"x":1668,"s":"e","y":120},{"x":1669,"s":"e","y":142},{"x":1670,"s":"e","y":152},{"x":1671,"s":"e","y":161},{"x":1672,"s":"e","y":150},{"x":1673,"s":"e","y":143},{"x":1674,"s":"e","y":158},{"x":1675,"s":"e","y":164},{"x":1676,"s":"e","y":195},{"x":1677,"s":"e","y":185},{"x":1678,"s":"e","y":188},{"x":1679,"s":"e","y":195},{"x":1680,"s":"e","y":199},{"x":1681,"s":"e","y":195},{"x":1682,"s":"e","y":186},{"x":1683,"s":"e","y":181},{"x":1684,"s":"e","y":178},{"x":1685,"s":"e","y":181},{"x":1686,"s":"e","y":170},{"x":1687,"s":"e","y":170},{"x":1688,"s":"e","y":140},{"x":1689,"s":"e","y":149},{"x":1690,"s":"e","y":148},{"x":1691,"s":"e","y":143},{"x":1692,"s":"e","y":135},{"x":1693,"s":"e","y":130},{"x":1694,"s":"e","y":122},{"x":1695,"s":"e","y":120},{"x":1696,"s":"e","y":115},{"x":1697,"s":"e","y":111},{"x":1698,"s":"e","y":105},{"x":1699,"s":"e","y":99},{"x":1700,"s":"e","y":103},{"x":1701,"s":"e","y":98},{"x":1702,"s":"e","y":90},{"x":1703,"s":"e","y":81},{"x":1704,"s":"e","y":95},{"x":1705,"s":"e","y":85},{"x":1706,"s":"e","y":86},{"x":1707,"s":"e","y":88},{"x":1708,"s":"e","y":80},{"x":1709,"s":"e","y":75},{"x":1710,"s":"e","y":71},{"x":1711,"s":"e","y":67},{"x":1712,"s":"e","y":63},{"x":1713,"s":"e","y":62},{"x":1714,"s":"e","y":59},{"x":1715,"s":"e","y":57},{"x":1716,"s":"e","y":59},{"x":1717,"s":"e","y":55},{"x":1718,"s":"e","y":54},{"x":1719,"s":"e","y":53},{"x":1720,"s":"e","y":53},{"x":1721,"s":"e","y":49},{"x":1722,"s":"e","y":45},{"x":1723,"s":"e","y":49},{"x":1724,"s":"e","y":49},{"x":1725,"s":"e","y":51},{"x":1726,"s":"e","y":46},{"x":1727,"s":"e","y":35},{"x":1728,"s":"e","y":45},{"x":1729,"s":"e","y":40},{"x":1730,"s":"e","y":40},{"x":1731,"s":"e","y":53},{"x":1732,"s":"e","y":42},{"x":1733,"s":"e","y":25},{"x":1734,"s":"e","y":35},{"x":1735,"s":"e","y":35},{"x":1736,"s":"e","y":32},{"x":1737,"s":"e","y":27},{"x":1738,"s":"e","y":30},{"x":1739,"s":"e","y":19},{"x":1740,"s":"e","y":33},{"x":1741,"s":"e","y":33},{"x":1742,"s":"e","y":28},{"x":1743,"s":"e","y":30},{"x":1744,"s":"e","y":32},{"x":1745,"s":"e","y":29.5},{"x":1746,"s":"e","y":28},{"x":1747,"s":"e","y":31.6},{"x":1748,"s":"e","y":26},{"x":1749,"s":"e","y":30},{"x":1750,"s":"e","y":45},{"x":1751,"s":"e","y":22},{"x":1752,"s":"e","y":25},{"x":1753,"s":"e","y":28},{"x":1754,"s":"e","y":30},{"x":1755,"s":"e","y":24.5},{"x":1756,"s":"e","y":27},{"x":1757,"s":"e","y":23.6},{"x":1758,"s":"e","y":28},{"x":1759,"s":"e","y":31},{"x":1760,"s":"e","y":27.5},{"x":1761,"s":"e","y":26},{"x":1762,"s":"e","y":29},{"x":1763,"s":"e","y":25},{"x":1764,"s":"e","y":18},{"x":1765,"s":"e","y":28},{"x":1766,"s":"e","y":33},{"x":1767,"s":"e","y":27.5},{"x":1768,"s":"e","y":26},{"x":1769,"s":"e","y":30},{"x":1770,"s":"e","y":28},{"x":1771,"s":"e","y":25},{"x":1772,"s":"e","y":25.5},{"x":1773,"s":"e","y":27.5},{"x":1774,"s":"e","y":29.5},{"x":1775,"s":"e","y":25},{"x":1776,"s":"e","y":19},{"x":1777,"s":"e","y":27},{"x":1778,"s":"e","y":25},{"x":1779,"s":"e","y":37},{"x":1780,"s":"e","y":28},{"x":1781,"s":"e","y":26},{"x":1782,"s":"e","y":30},{"x":1783,"s":"e","y":25},{"x":1784,"s":"e","y":27.5},{"x":1785,"s":"e","y":31},{"x":1786,"s":"e","y":27},{"x":1787,"s":"e","y":18},{"x":1788,"s":"e","y":33},{"x":1789,"s":"e","y":22.6},{"x":1790,"s":"e","y":25},{"x":1791,"s":"e","y":14},{"x":1792,"s":"e","y":21},{"x":1793,"s":"e","y":28},{"x":1794,"s":"e","y":16},{"x":1795,"s":"e","y":28},{"x":1796,"s":"e","y":26},{"x":1797,"s":"e","y":24.5},{"x":1798,"s":"e","y":16},{"x":1799,"s":"e","y":25},{"x":1800,"s":"e","y":23.6}
]},
"mark":{"type":"point","filled":true,"size":210,"stroke":"black","strokeWidth":1.5,"opacity":1},
"encoding":{
"x":{"field":"x","type":"quantitative","scale":{"domain":[1561.7,1801.2],"nice":false,"zero":false},
"axis":{"values":[1600,1650,1700,1750,1800],"format":"d","tickSize":12,"tickWidth":2,"tickColor":"black","domainColor":"black","domainWidth":2,"labelFont":"Liberation Sans","labelFontSize":19,"labelColor":"black","labelPadding":25,"title":"Canales (nm)","titleFont":"Liberation Sans","titleFontSize":29,"titleFontWeight":"normal","titleColor":"black","titleY":82,"titleBaseline":"middle"}},
"y":{"field":"y","type":"quantitative","scale":{"type":"log","domain":[5.09,15040],"nice":false},
"axis":{"values":[10,100,1000,10000],"format":"d","tickSize":12,"tickWidth":2,"tickColor":"black","domainColor":"black","domainWidth":2,"labelFont":"Liberation Sans","labelFontSize":19,"labelColor":"black","labelPadding":15,"title":"Cuentas","titleFont":"Liberation Sans","titleFontSize":29,"titleFontWeight":"normal","titleColor":"black","titleX":-96,"titleY":343,"titleAngle":-90,"titleAlign":"center","titleBaseline":"middle"}},
"color":{"field":"s","type":"nominal","scale":{"domain":["a","b","c","d","e"],"range":["#000000","#ff0000","#00ff00","#ffff00","#0000ff"]},
"legend":{"title":null,"orient":"none","legendX":618,"legendY":10,"padding":21,"symbolSize":200,"symbolOffset":13,"labelOffset":34,"rowPadding":12,"labelFont":"Liberation Sans","labelFontSize":21.5,"labelLimit":400,"labelColor":"black","strokeColor":"black","fillColor":"white","symbolStrokeColor":"black","symbolStrokeWidth":1.5,"labelExpr":"datum.value=='a'?'Prompt':datum.value=='b'?'β-amiloide (βA)-10 μM':datum.value=='c'?'βA + (4)-1 μM':datum.value=='d'?'βA + (4)-5 μM':'βA + (4)-10 μM'"}},
"shape":{"field":"s","type":"nominal","scale":{"domain":["a","b","c","d","e"],"range":["circle","circle","triangle-down","triangle-up","square"]},
"legend":{"title":null,"orient":"none","legendX":618,"legendY":10,"padding":21,"symbolSize":200,"symbolOffset":13,"labelOffset":34,"rowPadding":12,"labelFont":"Liberation Sans","labelFontSize":21.5,"labelLimit":400,"labelColor":"black","strokeColor":"black","fillColor":"white","symbolStrokeColor":"black","symbolStrokeWidth":1.5,"labelExpr":"datum.value=='a'?'Prompt':datum.value=='b'?'β-amiloide (βA)-10 μM':datum.value=='c'?'βA + (4)-1 μM':datum.value=='d'?'βA + (4)-5 μM':'βA + (4)-10 μM'"}}
}
}
